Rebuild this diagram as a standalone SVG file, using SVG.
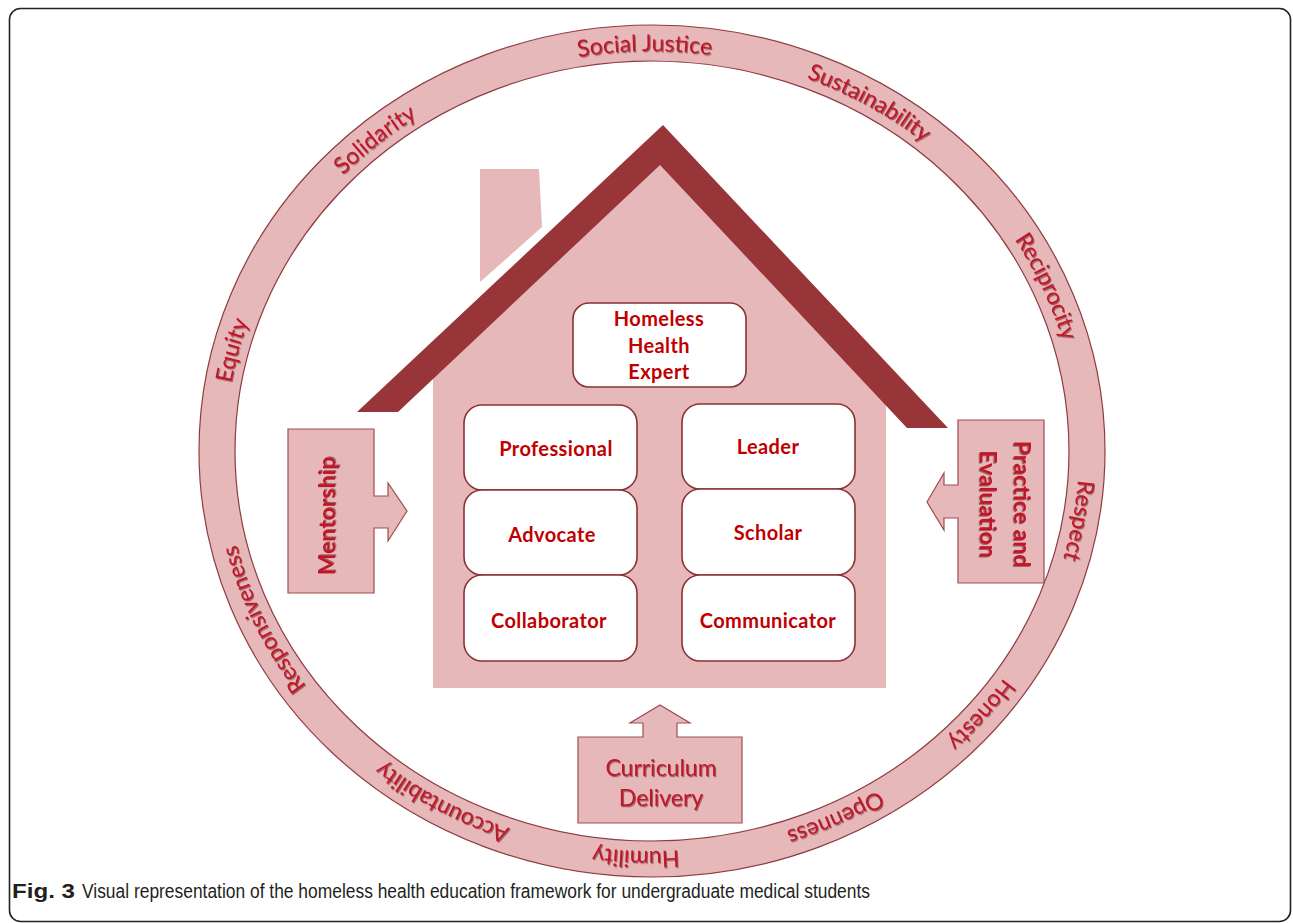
<svg xmlns="http://www.w3.org/2000/svg" width="1293" height="923" viewBox="0 0 1293 923">
  <defs>
    <style>
      .pink { fill: #e6b8b9; }
      .ring { fill: #e6b8b9; stroke: #8e3c41; stroke-width: 1.2; fill-rule: evenodd; }
      .roof { fill: #983538; }
      .box { fill: #ffffff; stroke: #8a3136; stroke-width: 1.6; }
      .arrowbox { fill: #e6b8b9; stroke: #a04c51; stroke-width: 1.2; }
      .lbl { font-family: Lato, "Open Sans", "Liberation Sans", sans-serif; font-weight: 700; font-size: 20px; letter-spacing: 0.4px; fill: #c00000; text-anchor: middle; }
      .ringtxt { font-family: Lato, "Open Sans", "Liberation Sans", sans-serif; font-size: 23px; fill: #c0182a; filter: url(#shadow); }
      .big { font-family: Lato, "Open Sans", "Liberation Sans", sans-serif; font-size: 23px; fill: #c0182a; text-anchor: middle; filter: url(#shadow); }
      .cap { font-family: "Liberation Sans Narrow", "Liberation Sans", sans-serif; font-size: 20px; fill: #231f20; }
    </style>
    <filter id="shadow" x="-10%" y="-30%" width="120%" height="160%">
      <feDropShadow dx="1" dy="1.2" stdDeviation="0.7" flood-color="#5a1418" flood-opacity="0.55"/>
    </filter>
    <path id="p-social" d="M371.8,149.1 A427,400 0 0 1 920.7,140.2"/>
    <path id="p-sustain" d="M585.2,55.9 A427,400 0 0 1 1055.7,320.8"/>
    <path id="p-recip" d="M843.2,93.3 A427,400 0 0 1 1061.2,565.3"/>
    <path id="p-respect" d="M1020.3,248.6 A427,400 0 0 1 928.7,755.6"/>
    <path id="p-honesty" d="M1079,448.9 A427,400 0 0 1 728.3,844.6"/>
    <path id="p-open" d="M1041.2,615.6 A427,400 0 0 1 546.5,838.6"/>
    <path id="p-humil" d="M913.7,767.1 A427,400 0 0 1 365.2,747.3"/>
    <path id="p-account" d="M726.9,844.8 A427,400 0 0 1 251.0,588.5"/>
    <path id="p-respon" d="M466.2,811.1 A427,400 0 0 1 241.1,342.1"/>
    <path id="p-equity" d="M268.2,626.4 A427,400 0 0 1 401.0,127.4"/>
    <path id="p-solid" d="M230.7,385.7 A427,400 0 0 1 647.5,51.0"/>
  </defs>

  <rect width="1293" height="923" fill="#ffffff"/>
  <rect id="frame" x="9.5" y="8.5" width="1281" height="913" rx="11" fill="none" stroke="#222222" stroke-width="1.6"/>

  <g id="values-ring">
    <path class="ring" d="M199,451 A453,426 0 1 0 1105,451 A453,426 0 1 0 199,451 Z M235,451 A417,390 0 1 0 1069,451 A417,390 0 1 0 235,451 Z"/>
    <text class="ringtxt"><textPath href="#p-social" startOffset="50%" text-anchor="middle">Social Justice</textPath></text>
    <text class="ringtxt"><textPath href="#p-sustain" startOffset="50%" text-anchor="middle">Sustainability</textPath></text>
    <text class="ringtxt"><textPath href="#p-recip" startOffset="50%" text-anchor="middle">Reciprocity</textPath></text>
    <text class="ringtxt"><textPath href="#p-respect" startOffset="50%" text-anchor="middle">Respect</textPath></text>
    <text class="ringtxt"><textPath href="#p-honesty" startOffset="50%" text-anchor="middle">Honesty</textPath></text>
    <text class="ringtxt"><textPath href="#p-open" startOffset="50%" text-anchor="middle">Openness</textPath></text>
    <text class="ringtxt"><textPath href="#p-humil" startOffset="50%" text-anchor="middle">Humility</textPath></text>
    <text class="ringtxt"><textPath href="#p-account" startOffset="50%" text-anchor="middle">Accountability</textPath></text>
    <text class="ringtxt"><textPath href="#p-respon" startOffset="50%" text-anchor="middle">Responsiveness</textPath></text>
    <text class="ringtxt"><textPath href="#p-equity" startOffset="50%" text-anchor="middle">Equity</textPath></text>
    <text class="ringtxt"><textPath href="#p-solid" startOffset="50%" text-anchor="middle">Solidarity</textPath></text>
  </g>

  <g id="house">
    <polygon class="pink" points="480,169 539,169 542,227 480,282"/>
    <polygon class="pink" points="433,370 661,148 886,395 886,688 433,688"/>
    <polygon class="roof" points="663,125 948,428 907,428 660,165 398,412 357,412"/>
  </g>

  <g id="expert">
    <rect class="box" x="573" y="303" width="173" height="84" rx="16"/>
    <text class="lbl" x="659" y="326">Homeless</text>
    <text class="lbl" x="659" y="353">Health</text>
    <text class="lbl" x="659" y="379">Expert</text>
  </g>

  <g id="professional">
    <rect class="box" x="464" y="405" width="173" height="85" rx="18"/>
    <text class="lbl" x="556" y="456">Professional</text>
  </g>
  <g id="advocate">
    <rect class="box" x="464" y="490" width="173" height="85" rx="18"/>
    <text class="lbl" x="552" y="542">Advocate</text>
  </g>
  <g id="collaborator">
    <rect class="box" x="464" y="575" width="173" height="86" rx="18"/>
    <text class="lbl" x="549" y="628">Collaborator</text>
  </g>
  <g id="leader">
    <rect class="box" x="682" y="404" width="173" height="85" rx="18"/>
    <text class="lbl" x="768" y="454">Leader</text>
  </g>
  <g id="scholar">
    <rect class="box" x="682" y="489" width="173" height="86" rx="18"/>
    <text class="lbl" x="768" y="540">Scholar</text>
  </g>
  <g id="communicator">
    <rect class="box" x="682" y="575" width="173" height="86" rx="18"/>
    <text class="lbl" x="768" y="628">Communicator</text>
  </g>

  <g id="mentorship">
    <path class="arrowbox" d="M288,429 H374 V496 H388 V483 L407,511 L388,541 V528 H374 V593 H288 Z"/>
    <text class="big" font-weight="700" font-size="24" transform="translate(327,516) rotate(-90)" y="8">Mentorship</text>
  </g>

  <g id="practice-evaluation">
    <path class="arrowbox" d="M958,420 H1044 V583 H958 V518 H944 V530 L927,502 L944,473 V485 H958 Z"/>
    <g transform="translate(1003,504) rotate(90)">
      <text class="big" font-weight="700" x="0" y="-11">Practice and</text>
      <text class="big" font-weight="700" x="0" y="23">Evaluation</text>
    </g>
  </g>

  <g id="curriculum-delivery">
    <path class="arrowbox" d="M578,737 H643 V723 H630 L660,705 L690,723 H677 V737 H742 V823 H578 Z"/>
    <text class="big" font-size="25" x="661" y="776">Curriculum</text>
    <text class="big" font-size="25" x="661" y="806">Delivery</text>
  </g>

  <g id="caption">
    <text class="cap" x="12" y="898" font-weight="700" textLength="63" lengthAdjust="spacingAndGlyphs">Fig. 3</text>
    <text class="cap" x="82" y="898" textLength="788" lengthAdjust="spacingAndGlyphs">Visual representation of the homeless health education framework for undergraduate medical students</text>
  </g>
</svg>
